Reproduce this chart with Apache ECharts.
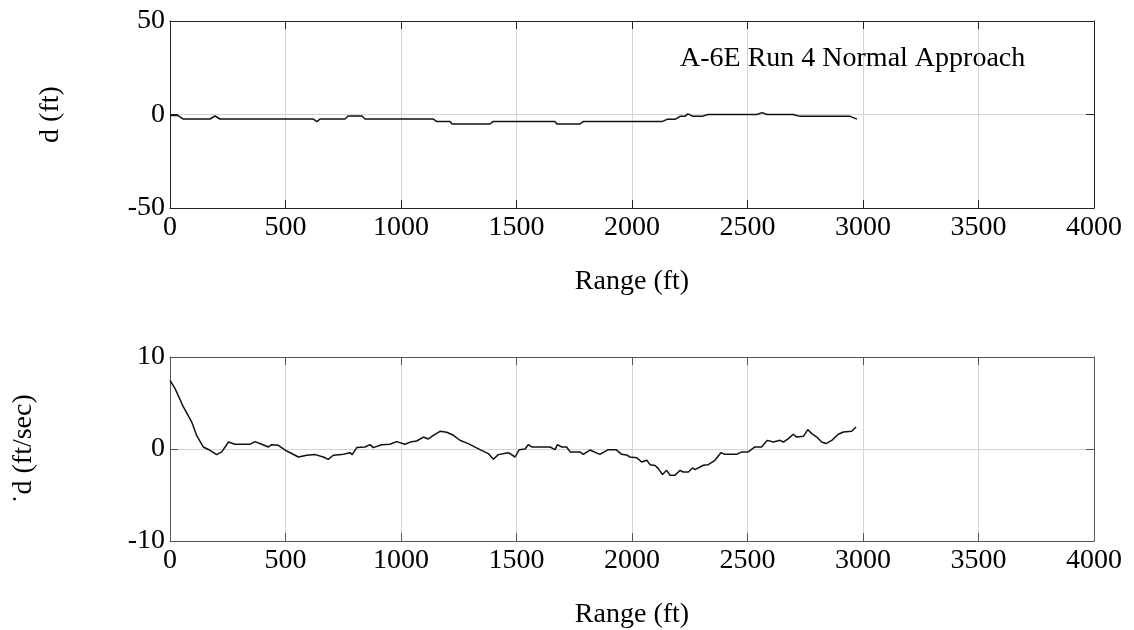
<!DOCTYPE html>
<html>
<head>
<meta charset="utf-8">
<script src="https://cdn.jsdelivr.net/npm/echarts@6/dist/echarts.min.js"></script>
<style>html,body{margin:0;padding:0;background:#fff}#c{width:1134px;height:630px}</style>
</head>
<body>
<div id="c"></div>
<script>
// Top panel: lateral deviation d (ft) vs range (ft)
var rangeTop = [0, 35, 43, 56, 173, 195, 216, 619, 636, 649, 758, 771, 831, 844, 1138, 1156, 1212, 1221, 1385, 1398, 1667, 1675, 1775, 1788, 2130, 2152, 2186, 2208, 2229, 2242, 2264, 2303, 2329, 2541, 2563, 2584, 2697, 2727, 2944, 2974];
var dTop     = [-0.5, -0.6, -1.5, -2.4, -2.4, -0.8, -2.4, -2.4, -3.8, -2.4, -2.4, -0.8, -0.8, -2.4, -2.4, -3.8, -3.8, -5.1, -5.1, -3.8, -3.8, -5.1, -5.1, -3.8, -3.8, -2.6, -2.6, -1.0, -1.0, 0.3, -1.0, -1.0, 0, 0, 1.0, 0, 0, -1.0, -1.0, -2.5];

// Bottom panel: d-dot (ft/sec) vs range (ft)
var rangeBot = [0, 22, 58, 94, 115, 144, 173, 202, 224, 253, 281, 346, 368, 397, 426, 440, 469, 505, 556, 592, 628, 664, 685, 707, 743, 779, 789, 808, 844, 866, 880, 916, 952, 981, 1017, 1046, 1068, 1097, 1118, 1147, 1169, 1198, 1227, 1255, 1291, 1342, 1378, 1400, 1421, 1465, 1494, 1512, 1537, 1551, 1566, 1602, 1645, 1667, 1677, 1696, 1717, 1732, 1775, 1789, 1818, 1861, 1897, 1931, 1955, 1977, 1991, 2020, 2042, 2064, 2078, 2100, 2114, 2132, 2150, 2165, 2186, 2208, 2222, 2244, 2262, 2273, 2309, 2330, 2359, 2385, 2403, 2453, 2475, 2503, 2532, 2561, 2586, 2612, 2641, 2655, 2677, 2698, 2713, 2742, 2761, 2778, 2800, 2821, 2840, 2865, 2893, 2915, 2951, 2970];
var dBot     = [7.47, 6.56, 4.57, 2.93, 1.49, 0.22, -0.14, -0.61, -0.32, 0.76, 0.51, 0.51, 0.80, 0.51, 0.22, 0.47, 0.40, -0.22, -0.87, -0.68, -0.61, -0.87, -1.12, -0.68, -0.61, -0.40, -0.61, 0.15, 0.22, 0.47, 0.15, 0.47, 0.51, 0.80, 0.51, 0.80, 0.87, 1.30, 1.09, 1.60, 1.92, 1.82, 1.49, 0.95, 0.59, -0.07, -0.50, -1.12, -0.61, -0.40, -0.87, -0.07, 0, 0.47, 0.22, 0.22, 0.22, -0.07, 0.47, 0.22, 0.22, -0.32, -0.32, -0.58, -0.11, -0.58, -0.07, -0.07, -0.58, -0.65, -0.87, -0.94, -1.41, -1.23, -1.70, -1.80, -2.13, -2.78, -2.32, -2.86, -2.86, -2.32, -2.50, -2.50, -2.06, -2.24, -1.77, -1.70, -1.23, -0.40, -0.58, -0.58, -0.32, -0.32, 0.22, 0.22, 0.94, 0.76, 0.94, 0.76, 1.13, 1.60, 1.30, 1.38, 2.11, 1.67, 1.30, 0.76, 0.59, 0.94, 1.60, 1.85, 1.92, 2.39];

var xTicks = [0, 500, 1000, 1500, 2000, 2500, 3000, 3500, 4000];
var yTicksTop = [-50, 0, 50];
var yTicksBot = [-10, 0, 10];
var titleText = 'A-6E Run 4 Normal Approach';
var xName = 'Range (ft)';
var yNameTop = 'd (ft)';
var yNameBot = '\u02D9d (ft/sec)';

var FONT = 'Liberation Serif';
var FS = 28;

function zipXY(xs, ys) { return xs.map(function (x, i) { return [x, ys[i]]; }); }
function plain(v) { return String(v); }

var chart = echarts.init(document.getElementById('c'), null, {renderer: 'canvas'});

function mainX(gi, color) {
  return {
    type: 'value', gridIndex: gi, min: xTicks[0], max: xTicks[xTicks.length - 1], interval: 500,
    position: 'bottom',
    name: xName, nameLocation: 'middle', nameGap: 60,
    nameTextStyle: {fontFamily: FONT, fontSize: FS, color: '#000'},
    axisLine: {show: true, onZero: false, lineStyle: {color: color, width: 1}},
    axisTick: {show: true, inside: true, length: 8, lineStyle: {color: color}},
    axisLabel: {fontFamily: FONT, fontSize: FS, color: '#000', margin: 6, formatter: plain},
    splitLine: {show: true, lineStyle: {color: '#d4d4d4', width: 1}}
  };
}
function mirrorX(gi, color) {
  return {
    type: 'value', gridIndex: gi, min: xTicks[0], max: xTicks[xTicks.length - 1], interval: 500,
    position: 'top',
    axisLine: {show: true, onZero: false, lineStyle: {color: color, width: 1}},
    axisTick: {show: true, inside: true, length: 8, lineStyle: {color: color}},
    axisLabel: {show: false}, splitLine: {show: false}
  };
}
function mainY(gi, ticks, name, gap, color) {
  return {
    type: 'value', gridIndex: gi, min: ticks[0], max: ticks[ticks.length - 1], interval: ticks[1] - ticks[0],
    position: 'left',
    name: name, nameLocation: 'middle', nameRotate: 90, nameGap: gap,
    nameTextStyle: {fontFamily: FONT, fontSize: FS, color: '#000'},
    axisLine: {show: true, onZero: false, lineStyle: {color: color, width: 1}},
    axisTick: {show: true, inside: true, length: 8, lineStyle: {color: color}},
    axisLabel: {fontFamily: FONT, fontSize: FS, color: '#000', margin: 5, formatter: plain},
    splitLine: {show: true, lineStyle: {color: '#d4d4d4', width: 1}}
  };
}
function mirrorY(gi, ticks, color) {
  return {
    type: 'value', gridIndex: gi, min: ticks[0], max: ticks[ticks.length - 1], interval: ticks[1] - ticks[0],
    position: 'right',
    axisLine: {show: true, onZero: false, lineStyle: {color: color, width: 1}},
    axisTick: {show: true, inside: true, length: 8, lineStyle: {color: color}},
    axisLabel: {show: false}, splitLine: {show: false}
  };
}

var option = {
  backgroundColor: '#fff',
  animation: false,
  title: {
    text: titleText, left: 675, top: 40,
    textStyle: {fontFamily: FONT, fontSize: FS, fontWeight: 'normal', color: '#000'}
  },
  grid: [
    {left: 170, right: 40, top: 21, height: 187},
    {left: 170, right: 40, top: 357, height: 184}
  ],
  xAxis: [mainX(0, '#222'), mirrorX(0, '#222'), mainX(1, '#555'), mirrorX(1, '#555')],
  yAxis: [mainY(0, yTicksTop, yNameTop, 105, '#222'), mirrorY(0, yTicksTop, '#222'),
          mainY(1, yTicksBot, yNameBot, 132, '#555'), mirrorY(1, yTicksBot, '#555')],
  series: [
    {type: 'line', xAxisIndex: 0, yAxisIndex: 0, data: zipXY(rangeTop, dTop), showSymbol: false,
     lineStyle: {color: '#111', width: 1.5}},
    {type: 'line', xAxisIndex: 2, yAxisIndex: 2, data: zipXY(rangeBot, dBot), showSymbol: false,
     lineStyle: {color: '#111', width: 1.5}}
  ]
};
chart.setOption(option);
</script>
</body>
</html>
